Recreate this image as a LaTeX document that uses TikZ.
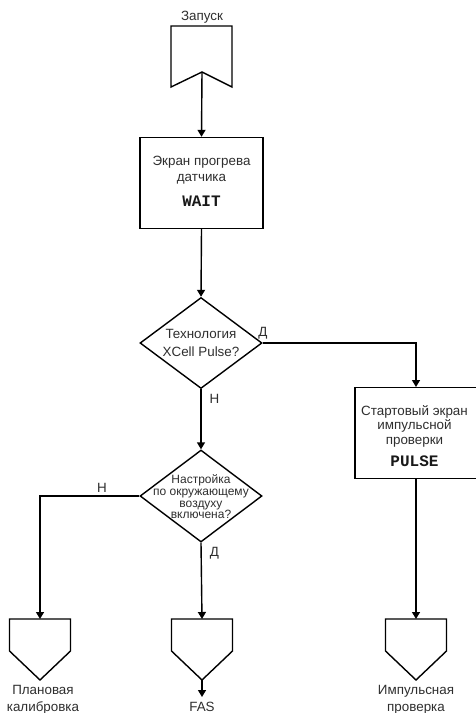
\documentclass[tikz,border=0pt]{standalone}
\usepackage{fontspec}
\setmainfont{Liberation Sans}
\newfontfamily\monobold{Liberation Mono}[BoldFont={* Bold}]
\usetikzlibrary{shapes.geometric,arrows.meta}
\begin{document}
\begin{tikzpicture}[x=1pt,y=-1pt,
  line width=1.4pt,
  arr/.style={-{Triangle[length=7pt,width=8pt]}},
  boxnode/.style={draw,rectangle,inner sep=0pt,minimum width=123pt,minimum height=91pt},
  decis/.style={draw,diamond,inner sep=0pt,minimum width=122pt,minimum height=91pt},
  txt/.style={inner sep=0pt,anchor=base,text=black!82,font=\fontsize{13.4}{16}\selectfont},
  smalltxt/.style={inner sep=0pt,anchor=base,text=black!82,font=\fontsize{12}{12}\selectfont},
  codetxt/.style={inner sep=0pt,anchor=base,text=black!90,font=\monobold\bfseries\fontsize{16}{16}\selectfont}
]
\useasboundingbox (0,0) rectangle (476,713);

% start symbol
\draw (171,26) -- (232,26) -- (232,87) -- (202,72) -- (171,87) -- cycle;
\coordinate (start) at (202,72);
\node[txt] (startlbl) at (202,20) {Запуск};

% WAIT box
\node[boxnode] (wait) at (201.5,183) {};
\node[txt] (waitA) at (201.5,165) {Экран прогрева};
\node[txt] (waitB) at (201.5,181.5) {датчика};
\node[codetxt] (waitC) at (201.5,206) {WAIT};

% decision 1
\node[decis] (d1) at (201,343) {};
\node[txt] (d1A) at (201,338) {Технология};
\node[txt] (d1B) at (201,356) {XCell Pulse?};

% decision 2
\node[decis,minimum height=92pt] (d2) at (201,496) {};
\node[smalltxt] (d2A) at (201,483) {Настройка};
\node[smalltxt] (d2B) at (201,495) {по окружающему};
\node[smalltxt] (d2C) at (201,507) {воздуху};
\node[smalltxt] (d2D) at (201,518.5) {включена?};

% PULSE box
\node[boxnode] (pulse) at (416.5,433) {};
\node[txt] (pA) at (414.5,415) {Стартовый экран};
\node[txt] (pB) at (414.5,429) {импульсной};
\node[txt] (pC) at (414.5,444) {проверки};
\node[codetxt] (pD) at (414.5,466) {PULSE};

% terminals
\draw (9.5,619) -- (70.5,619) -- (70.5,651) -- (40,680) -- (9.5,651) -- cycle;
\coordinate (t1) at (40,619);
\draw (171.5,619) -- (232.5,619) -- (232.5,651) -- (202,680) -- (171.5,651) -- cycle;
\coordinate (t2) at (202,619);
\coordinate (t2b) at (202,680);
\coordinate (fasend) at (202,697);
\draw (385.5,619) -- (446.5,619) -- (446.5,651) -- (416,680) -- (385.5,651) -- cycle;
\coordinate (t3) at (416,619);

\node[txt] (l1a) at (43,694) {Плановая};
\node[txt] (l1b) at (43,711) {калибровка};
\node[txt] (l2) at (202,711) {FAS};
\node[txt] (l3a) at (416,694) {Импульсная};
\node[txt] (l3b) at (416,711) {проверка};

% connectors
\draw[arr] (start) -- (wait.north);
\draw[arr] (wait.south) -- (d1.north);
\draw[arr] (d1.east) -| (416,387);
\draw[arr] (d1.south) -- (d2.north);
\draw[arr] (d2.west) -| (t1);
\draw[arr] (d2.south) -- (t2);
\draw[arr] (pulse.south -| t3) -- (t3);
\draw[arr] (t2b) -- (fasend);

% branch labels
\node[txt] (yes1) at (263,336) {Д};
\node[txt] (no1) at (214.5,403) {Н};
\node[txt] (no2) at (102,492) {Н};
\node[txt] (yes2) at (214.5,556) {Д};
\end{tikzpicture}
\end{document}
